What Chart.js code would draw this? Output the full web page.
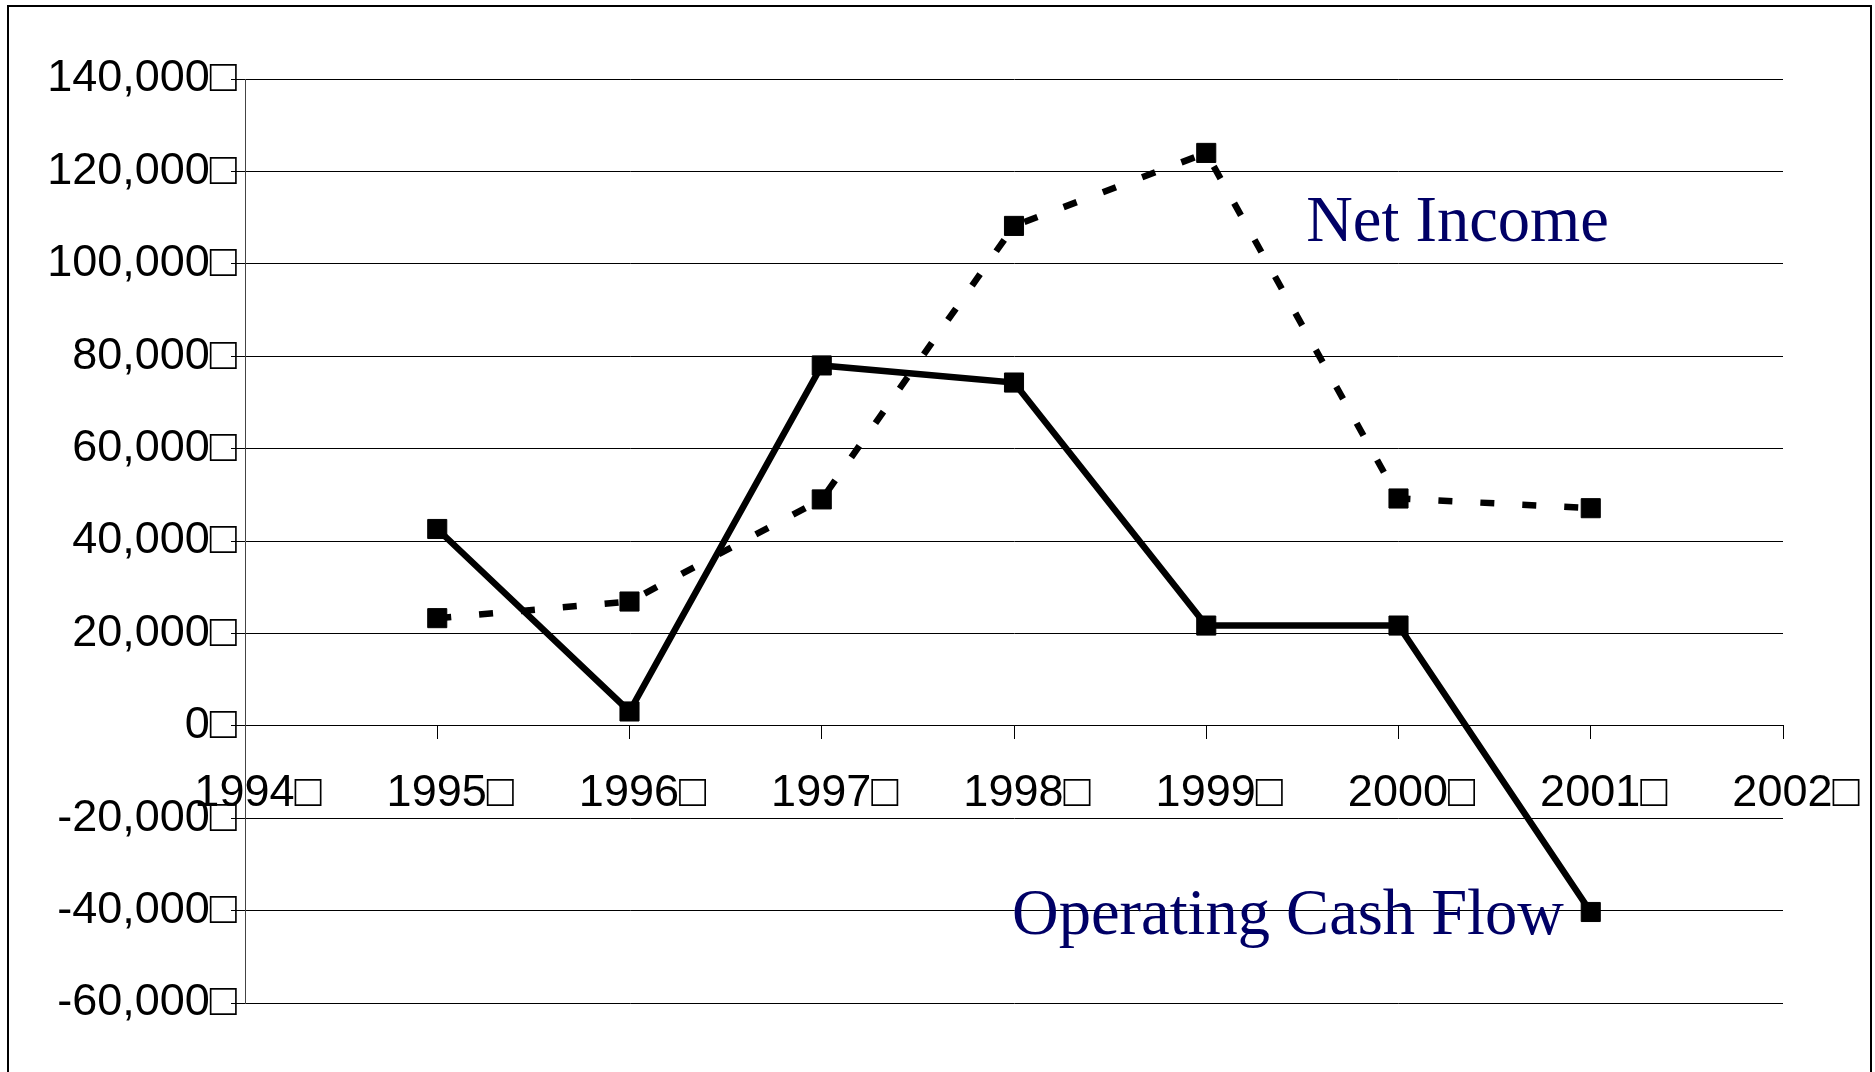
<!DOCTYPE html>
<html>
<head>
<meta charset="utf-8">
<title>Net Income vs Operating Cash Flow</title>
<script src="https://cdn.jsdelivr.net/npm/chart.js@4.4.1/dist/chart.umd.min.js"></script>
<style>
  html, body { margin: 0; padding: 0; background: #fff; overflow: hidden; }
  #wrap { position: relative; width: 1875px; height: 1072px; }
  #frame {
    position: absolute; left: 7px; top: 5px; width: 1861px; height: 1200px;
    border: 2px solid #000; pointer-events: none;
  }
</style>
</head>
<body>
<div id="wrap">
  <canvas id="chart" width="1875" height="1072"></canvas>
  <div id="frame"></div>
</div>
<script>
// ====== DATA ======
const years = [1995, 1996, 1997, 1998, 1999, 2000, 2001];
const netIncome = [23300, 26900, 49000, 108200, 124000, 49200, 47100];
const operatingCashFlow = [42600, 3100, 78000, 74300, 21700, 21700, -40300];

const yTicks = [-60000, -40000, -20000, 0, 20000, 40000, 60000, 80000, 100000, 120000, 140000];
const xTicks = [1994, 1995, 1996, 1997, 1998, 1999, 2000, 2001, 2002];

const seriesNames = ["Net Income", "Operating Cash Flow"];
// where each series name sits, in data units (x = year, y = value)
const labelAnchors = [
  { x: 1999.52, y: 105000 },
  { x: 1997.99, y: -45000 },
];

const TOFU = "\u25A1";

// ====== LABEL SERIES ======
const seriesLabels = {
  id: "seriesLabels",
  beforeDatasetsDraw(chart) {
    const { ctx, scales } = chart;
    ctx.save();
    ctx.font = '64.5px "Liberation Serif", "Times New Roman", serif';
    ctx.fillStyle = "#000066";
    ctx.textAlign = "left";
    ctx.textBaseline = "alphabetic";
    seriesNames.forEach((name, i) => {
      const a = labelAnchors[i];
      ctx.fillText(name, scales.x.getPixelForValue(a.x), scales.y.getPixelForValue(a.y));
    });
    ctx.restore();
  },
};

const toXY = (vals) => vals.map((v, i) => ({ x: years[i], y: v }));
const tickFont = { family: '"Liberation Sans", Arial, sans-serif', size: 45 };

new Chart(document.getElementById("chart"), {
  type: "line",
  data: {
    datasets: [
      {
        label: seriesNames[0],
        data: toXY(netIncome),
        borderColor: "#000",
        borderWidth: 6.5,
        borderDash: [14, 28],
        borderCapStyle: "butt",
        tension: 0,
        pointStyle: "rect",
        pointRadius: 13.5,
        pointBackgroundColor: "#000",
        pointBorderColor: "#000",
        pointBorderWidth: 1,
      },
      {
        label: seriesNames[1],
        data: toXY(operatingCashFlow),
        borderColor: "#000",
        borderWidth: 6.5,
        tension: 0,
        pointStyle: "rect",
        pointRadius: 13.5,
        pointBackgroundColor: "#000",
        pointBorderColor: "#000",
        pointBorderWidth: 1,
      },
    ],
  },
  options: {
    responsive: false,
    animation: false,
    devicePixelRatio: 1,
    layout: { padding: { left: 0, top: 79, right: 92, bottom: 69 } },
    plugins: {
      legend: { display: false },
      tooltip: { enabled: false },
    },
    scales: {
      x: {
        type: "linear",
        position: { y: 0 },
        min: xTicks[0],
        max: xTicks[xTicks.length - 1],
        afterBuildTicks: (scale) => { scale.ticks = xTicks.map((v) => ({ value: v })); },
        ticks: {
          callback: (v) => String(v) + TOFU,
          color: "#000",
          font: tickFont,
          padding: 28,
          labelOffset: 13,
          maxRotation: 0,
          autoSkip: false,
        },
        grid: { drawOnChartArea: false, drawTicks: true, tickLength: 13, color: "#000", lineWidth: 1 },
        border: { display: true, color: "#000", width: 1 },
      },
      y: {
        min: yTicks[0],
        max: yTicks[yTicks.length - 1],
        afterBuildTicks: (scale) => { scale.ticks = yTicks.map((v) => ({ value: v })); },
        afterFit: (scale) => { scale.width = 245; },
        ticks: {
          callback: (v) => v.toLocaleString("en-US") + TOFU,
          color: "#000",
          font: tickFont,
          padding: -6,
        },
        grid: { color: "#000", lineWidth: 1, tickLength: 14, drawTicks: true },
        border: { display: true, color: "#444", width: 1 },
      },
    },
  },
  plugins: [seriesLabels],
});
</script>
</body>
</html>
